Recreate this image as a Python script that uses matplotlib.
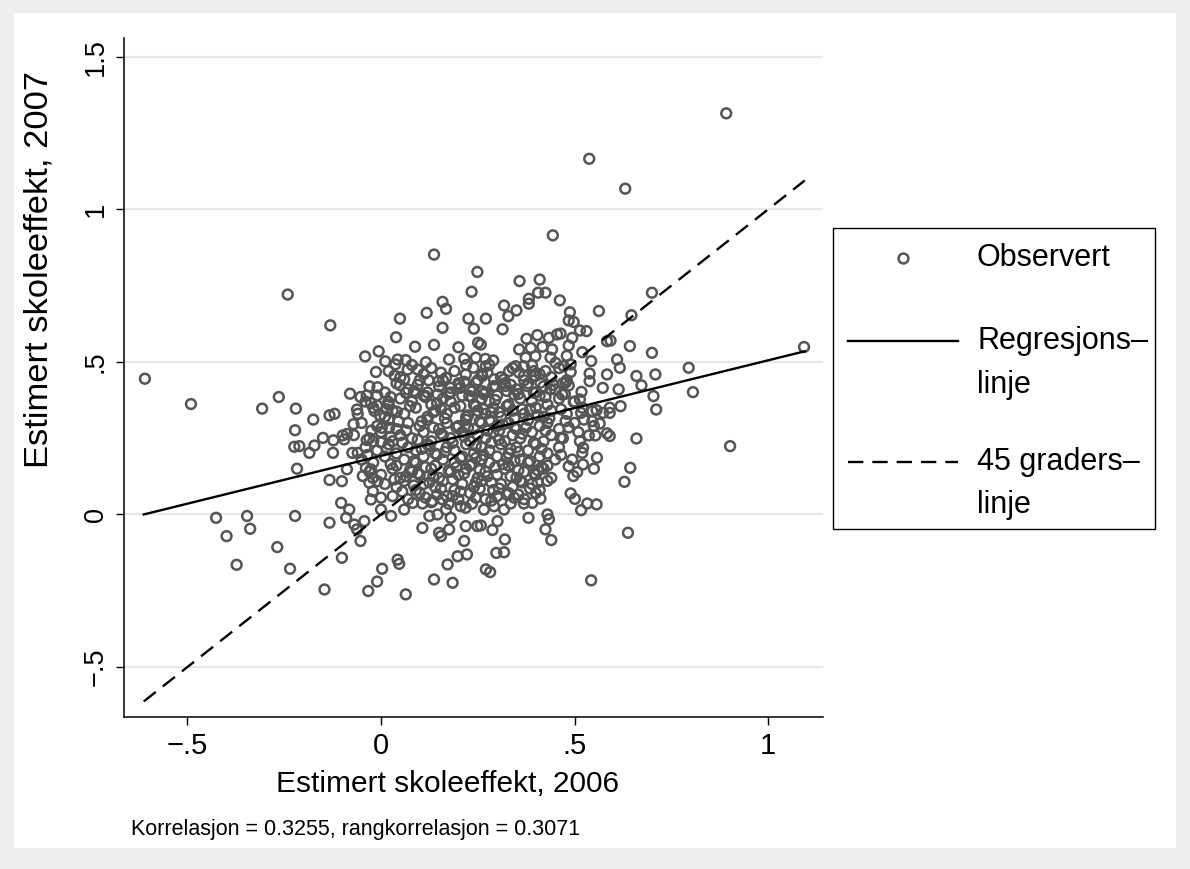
import matplotlib.pyplot as plt
from matplotlib.lines import Line2D
from matplotlib.patches import Rectangle

# school effects, 2006 (x) vs 2007 (y)
pts_left = [(-0.241, 0.721), (-0.610, 0.445), (-0.491, 0.362), (-0.307, 0.347), (-0.264, 0.385),
            (-0.220, 0.347), (-0.222, 0.276), (-0.224, 0.222), (-0.211, 0.224), (-0.217, 0.150),
            (-0.426, -0.011), (-0.346, -0.005), (-0.338, -0.047), (-0.399, -0.071), (-0.222, -0.005),
            (-0.268, -0.107), (-0.373, -0.165), (-0.235, -0.178)]

pts_midleft = [(-0.131, 0.620), (0.049, 0.642), (0.039, 0.581), (-0.006, 0.535), (-0.041, 0.518),
               (0.011, 0.502), (0.037, 0.492), (0.043, 0.508), (-0.013, 0.467), (-0.009, 0.417),
               (0.049, 0.424), (-0.080, 0.396), (-0.053, 0.385), (-0.037, 0.390), (-0.026, 0.366),
               (-0.010, 0.357), (0.019, 0.369), (-0.062, 0.344), (-0.017, 0.339), (-0.003, 0.325),
               (0.041, 0.337), (-0.133, 0.325), (-0.120, 0.330), (-0.175, 0.311),
               (-0.150, 0.251), (-0.172, 0.226), (-0.185, 0.202), (-0.124, 0.202), (-0.123, 0.243),
               (-0.099, 0.259), (-0.088, 0.264), (-0.095, 0.246), (-0.074, 0.202), (-0.060, 0.202),
               (-0.071, 0.296), (-0.037, 0.244), (-0.020, 0.240), (0.000, 0.236), (0.021, 0.284),
               (0.002, 0.284), (-0.088, 0.148), (-0.133, 0.113), (-0.101, 0.109), (-0.047, 0.126),
               (-0.039, 0.153), (-0.026, 0.148), (-0.021, 0.120), (-0.030, 0.104), (-0.009, 0.109),
               (-0.021, 0.076), (0.000, 0.055), (-0.026, 0.049), (0.026, -0.005), (0.000, 0.016),
               (-0.103, 0.038), (-0.082, 0.016), (-0.090, -0.011), (-0.133, -0.027), (-0.069, -0.033),
               (-0.043, -0.022), (-0.062, -0.049), (-0.053, -0.087), (-0.101, -0.142), (0.003, -0.178),
               (-0.010, -0.220), (-0.033, -0.251), (-0.146, -0.246), (0.043, -0.148), (0.047, -0.162)]

pts_mid = [(0.137, 0.852), (0.249, 0.795), (0.234, 0.730), (0.159, 0.697), (0.168, 0.674),
           (0.118, 0.661), (0.226, 0.642), (0.240, 0.609), (0.159, 0.612), (0.088, 0.550),
           (0.137, 0.556), (0.200, 0.548), (0.251, 0.563), (0.176, 0.508), (0.215, 0.511),
           (0.245, 0.514), (0.116, 0.499), (0.064, 0.506), (0.239, 0.481), (0.219, 0.459),
           (0.095, 0.475), (0.069, 0.475), (0.123, 0.440), (0.149, 0.437), (0.168, 0.448),
           (0.180, 0.415), (0.202, 0.426), (0.245, 0.432), (0.060, 0.443), (0.064, 0.399),
           (0.090, 0.399), (0.116, 0.388), (0.146, 0.393), (0.236, 0.404), (0.228, 0.388),
           (0.060, 0.016), (0.082, 0.038), (0.107, 0.036), (0.133, 0.044), (0.159, 0.049),
           (0.185, 0.060), (0.206, 0.027), (0.219, 0.022), (0.245, 0.055), (0.125, -0.005),
           (0.146, 0.000), (0.168, 0.016), (0.180, -0.011), (0.107, -0.044), (0.150, -0.060),
           (0.155, -0.071), (0.176, -0.049), (0.219, -0.038), (0.249, -0.038), (0.215, -0.087),
           (0.198, -0.137), (0.222, -0.131), (0.172, -0.164), (0.137, -0.213), (0.185, -0.224),
           (0.064, -0.262)]

pts_midright = [(0.358, 0.765), (0.410, 0.770), (0.406, 0.727), (0.425, 0.727), (0.382, 0.707),
                (0.382, 0.691), (0.462, 0.702), (0.318, 0.685), (0.350, 0.669), (0.329, 0.650),
                (0.271, 0.642), (0.314, 0.607), (0.376, 0.576), (0.404, 0.588), (0.434, 0.579),
                (0.455, 0.590), (0.357, 0.541), (0.387, 0.546), (0.417, 0.550), (0.442, 0.541),
                (0.258, 0.557), (0.399, 0.519), (0.438, 0.514), (0.374, 0.514), (0.270, 0.510),
                (0.290, 0.505), (0.271, 0.486), (0.348, 0.486), (0.369, 0.486), (0.451, 0.497),
                (0.331, 0.470), (0.357, 0.465), (0.395, 0.470), (0.425, 0.470), (0.292, 0.443),
                (0.318, 0.443), (0.369, 0.454), (0.399, 0.454), (0.262, 0.454), (0.296, 0.421),
                (0.322, 0.421), (0.378, 0.421), (0.412, 0.432), (0.438, 0.410), (0.262, 0.404),
                (0.344, 0.393), (0.395, 0.399),
                (0.266, 0.016), (0.292, 0.027), (0.318, 0.016), (0.344, 0.055), (0.335, 0.036),
                (0.369, 0.036), (0.391, 0.038), (0.412, 0.052), (0.381, -0.011), (0.430, 0.000),
                (0.434, -0.016), (0.425, -0.049), (0.440, -0.084), (0.258, -0.036), (0.301, -0.022),
                (0.288, -0.051), (0.320, -0.082), (0.318, -0.124), (0.298, -0.126), (0.271, -0.180),
                (0.282, -0.189)]

pts_right = [(0.563, 0.667), (0.700, 0.727), (0.647, 0.653), (0.488, 0.663), (0.485, 0.636),
             (0.498, 0.631), (0.464, 0.593), (0.514, 0.603), (0.531, 0.601), (0.494, 0.579),
             (0.584, 0.568), (0.593, 0.570), (0.643, 0.552), (0.700, 0.530), (0.485, 0.554),
             (0.520, 0.532), (0.480, 0.520), (0.543, 0.503), (0.610, 0.508), (0.617, 0.481),
             (0.490, 0.492), (0.472, 0.486), (0.490, 0.467), (0.539, 0.462), (0.584, 0.459),
             (0.660, 0.454), (0.709, 0.459), (0.673, 0.423), (0.539, 0.437), (0.477, 0.432),
             (0.485, 0.423), (0.573, 0.415), (0.614, 0.410), (0.468, 0.393), (0.518, 0.402),
             (0.704, 0.388), (0.498, 0.369), (0.514, 0.377), (0.557, 0.342), (0.591, 0.350),
             (0.619, 0.355), (0.711, 0.344), (0.517, 0.333), (0.546, 0.339), (0.574, 0.333),
             (0.591, 0.333),
             (0.660, 0.249), (0.464, 0.251), (0.514, 0.240), (0.537, 0.259), (0.554, 0.259),
             (0.584, 0.266), (0.591, 0.257), (0.565, 0.298), (0.546, 0.306), (0.524, 0.311),
             (0.477, 0.306), (0.522, 0.219), (0.520, 0.202), (0.494, 0.180), (0.558, 0.186),
             (0.485, 0.158), (0.522, 0.164), (0.550, 0.150), (0.507, 0.139), (0.497, 0.126),
             (0.644, 0.153), (0.629, 0.107), (0.490, 0.069), (0.501, 0.051), (0.533, 0.036),
             (0.557, 0.033), (0.517, 0.014), (0.638, -0.060), (0.543, -0.216)]

pts_far = [(0.892, 1.315), (1.093, 0.549), (0.795, 0.481), (0.806, 0.401), (0.902, 0.224),
           (0.538, 1.166), (0.631, 1.068), (0.444, 0.915)]

# dense centre of the cloud (estimated, markers overlap heavily)
pts_core = [(0.02, 0.47), (0.05, 0.45), (0.08, 0.49), (0.11, 0.46), (0.13, 0.48), (0.16, 0.44),
            (0.19, 0.47), (0.22, 0.49), (0.26, 0.46), (0.28, 0.49), (0.31, 0.45), (0.34, 0.48),
            (0.37, 0.44), (0.39, 0.49), (0.41, 0.46), (0.44, 0.45), (0.46, 0.48), (0.48, 0.44),
            (-0.03, 0.42), (0.01, 0.40), (0.04, 0.43), (0.07, 0.41), (0.10, 0.44), (0.12, 0.40),
            (0.15, 0.42), (0.18, 0.40), (0.20, 0.43), (0.23, 0.41), (0.25, 0.44), (0.27, 0.40),
            (0.29, 0.42), (0.32, 0.43), (0.35, 0.41), (0.38, 0.43), (0.40, 0.40), (0.42, 0.42),
            (0.45, 0.41), (0.47, 0.43),
            (-0.04, 0.37), (-0.01, 0.39), (0.02, 0.36), (0.05, 0.38), (0.08, 0.37), (0.11, 0.39),
            (0.13, 0.36), (0.16, 0.38), (0.18, 0.37), (0.21, 0.39), (0.24, 0.36), (0.26, 0.38),
            (0.28, 0.37), (0.30, 0.39), (0.33, 0.36), (0.36, 0.38), (0.39, 0.37), (0.41, 0.39),
            (0.43, 0.36), (0.46, 0.38), (0.50, 0.37),
            (-0.06, 0.33), (-0.02, 0.35), (0.01, 0.32), (0.03, 0.34), (0.06, 0.33), (0.09, 0.35),
            (0.12, 0.32), (0.14, 0.34), (0.17, 0.33), (0.19, 0.35), (0.22, 0.32), (0.25, 0.34),
            (0.27, 0.33), (0.29, 0.35), (0.31, 0.32), (0.34, 0.34), (0.37, 0.33), (0.40, 0.35),
            (0.42, 0.32), (0.44, 0.34), (0.48, 0.33), (0.52, 0.35),
            (-0.05, 0.30), (-0.01, 0.29), (0.02, 0.31), (0.04, 0.28), (0.07, 0.30), (0.10, 0.29),
            (0.12, 0.31), (0.15, 0.28), (0.17, 0.30), (0.20, 0.29), (0.22, 0.31), (0.24, 0.28),
            (0.26, 0.30), (0.28, 0.31), (0.30, 0.29), (0.33, 0.30), (0.35, 0.28), (0.38, 0.31),
            (0.41, 0.29), (0.43, 0.30), (0.46, 0.28), (0.50, 0.30), (0.55, 0.29),
            (-0.07, 0.26), (-0.03, 0.25), (0.00, 0.27), (0.03, 0.24), (0.05, 0.26), (0.08, 0.25),
            (0.11, 0.27), (0.13, 0.24), (0.16, 0.26), (0.18, 0.25), (0.21, 0.27), (0.23, 0.24),
            (0.25, 0.26), (0.27, 0.25), (0.29, 0.27), (0.32, 0.24), (0.34, 0.26), (0.36, 0.25),
            (0.39, 0.27), (0.42, 0.24), (0.44, 0.26), (0.47, 0.25), (0.51, 0.27),
            (-0.04, 0.22), (-0.01, 0.21), (0.02, 0.23), (0.04, 0.20), (0.07, 0.22), (0.09, 0.21),
            (0.12, 0.23), (0.14, 0.20), (0.17, 0.22), (0.19, 0.21), (0.22, 0.23), (0.24, 0.20),
            (0.26, 0.22), (0.28, 0.21), (0.31, 0.23), (0.33, 0.20), (0.35, 0.22), (0.38, 0.21),
            (0.40, 0.23), (0.43, 0.20), (0.46, 0.22),
            (-0.05, 0.18), (-0.02, 0.17), (0.01, 0.19), (0.04, 0.16), (0.06, 0.18), (0.09, 0.17),
            (0.11, 0.19), (0.14, 0.16), (0.16, 0.18), (0.19, 0.17), (0.21, 0.19), (0.23, 0.16),
            (0.26, 0.18), (0.28, 0.17), (0.30, 0.19), (0.33, 0.16), (0.36, 0.18), (0.38, 0.17),
            (0.41, 0.19), (0.43, 0.16), (0.45, 0.18),
            (-0.03, 0.14), (0.00, 0.13), (0.03, 0.15), (0.05, 0.12), (0.08, 0.14), (0.10, 0.13),
            (0.13, 0.15), (0.15, 0.12), (0.18, 0.14), (0.20, 0.13), (0.22, 0.15), (0.25, 0.12),
            (0.27, 0.14), (0.30, 0.13), (0.32, 0.15), (0.35, 0.12), (0.37, 0.14), (0.40, 0.13),
            (0.42, 0.15), (0.44, 0.12),
            (0.01, 0.10), (0.04, 0.09), (0.06, 0.11), (0.09, 0.08), (0.11, 0.10), (0.14, 0.09),
            (0.16, 0.11), (0.19, 0.08), (0.21, 0.10), (0.24, 0.09), (0.26, 0.11), (0.29, 0.08),
            (0.31, 0.10), (0.34, 0.09), (0.36, 0.11), (0.39, 0.10), (0.41, 0.08), (0.43, 0.11),
            (0.03, 0.06), (0.07, 0.05), (0.10, 0.07), (0.13, 0.04), (0.17, 0.06), (0.20, 0.05),
            (0.23, 0.07), (0.27, 0.05), (0.30, 0.06), (0.33, 0.07), (0.37, 0.05), (0.40, 0.07)]

pts_core2 = [(0.115, 0.385), (0.145, 0.365), (0.175, 0.395), (0.205, 0.355), (0.235, 0.385),
             (0.265, 0.345), (0.295, 0.375), (0.325, 0.355), (0.355, 0.395), (0.385, 0.345),
             (0.105, 0.305), (0.135, 0.335), (0.165, 0.315), (0.195, 0.285), (0.225, 0.325),
             (0.255, 0.305), (0.285, 0.335), (0.315, 0.295), (0.345, 0.315), (0.375, 0.285),
             (0.405, 0.325), (0.095, 0.245), (0.125, 0.225), (0.155, 0.265), (0.185, 0.235),
             (0.215, 0.255), (0.245, 0.225), (0.275, 0.275), (0.305, 0.245), (0.335, 0.215),
             (0.365, 0.265), (0.395, 0.235), (0.085, 0.175), (0.115, 0.155), (0.145, 0.195),
             (0.175, 0.145), (0.205, 0.185), (0.235, 0.165), (0.265, 0.195), (0.295, 0.155),
             (0.325, 0.185), (0.355, 0.145), (0.385, 0.175), (0.415, 0.155), (0.065, 0.125),
             (0.095, 0.135), (0.125, 0.105), (0.155, 0.085), (0.185, 0.115), (0.215, 0.135),
             (0.245, 0.105), (0.275, 0.125), (0.305, 0.085), (0.335, 0.125), (0.365, 0.105),
             (0.395, 0.135),
             (0.035, 0.455), (0.095, 0.425), (0.155, 0.465), (0.215, 0.435), (0.275, 0.465),
             (0.335, 0.425), (0.395, 0.455), (0.445, 0.425), (0.025, 0.385), (0.085, 0.405),
             (0.205, 0.415), (0.265, 0.395), (0.325, 0.405), (0.425, 0.385), (0.475, 0.395),
             (0.015, 0.345), (0.075, 0.355), (0.045, 0.305), (0.155, 0.345), (0.245, 0.355),
             (0.305, 0.335), (0.365, 0.345), (0.435, 0.315), (0.465, 0.345), (-0.025, 0.275),
             (0.025, 0.255), (0.065, 0.275), (0.135, 0.285), (0.225, 0.285), (0.305, 0.275),
             (0.345, 0.285), (0.425, 0.275), (0.485, 0.285), (-0.035, 0.195), (0.015, 0.215),
             (0.055, 0.235), (0.105, 0.215), (0.165, 0.205), (0.245, 0.185), (0.285, 0.235),
             (0.355, 0.205), (0.415, 0.215), (0.465, 0.195), (0.025, 0.165), (0.075, 0.145),
             (0.135, 0.125), (0.195, 0.155), (0.255, 0.145), (0.315, 0.165), (0.345, 0.175),
             (0.405, 0.145), (0.035, 0.115), (0.085, 0.095), (0.145, 0.065), (0.205, 0.075),
             (0.255, 0.085), (0.285, 0.105), (0.325, 0.065), (0.385, 0.085), (0.055, 0.075),
             (0.115, 0.055), (0.175, 0.035), (0.235, 0.035), (0.285, 0.045), (0.355, 0.065),
             (0.405, 0.105)]

# fitted line and 45 degree line
reg_x = [-0.613, 1.095]
reg_y = [0.0, 0.535]
diag_x = [-0.613, 1.095]

xticks = [-0.5, 0, 0.5, 1]
xticklabels = ["\u2212.5", "0", ".5", "1"]
yticks = [-0.5, 0, 0.5, 1, 1.5]
yticklabels = ["\u2212.5", "0", ".5", "1", "1.5"]

obs = pts_left + pts_midleft + pts_mid + pts_midright + pts_right + pts_far + pts_core + pts_core2
obs_x = [p[0] for p in obs]
obs_y = [p[1] for p in obs]

FONT = ["Liberation Sans", "DejaVu Sans"]
MARK = "#555555"

W, H = 1190, 869
fig = plt.figure(figsize=(W / 100, H / 100), dpi=100, facecolor="#EEEEEE")
fig.patches.append(Rectangle((14 / W, 1 - 848 / H), (1176 - 14) / W, (848 - 13) / H,
                             transform=fig.transFigure, facecolor="white", edgecolor="none", zorder=-10))

ax = fig.add_axes([124 / W, 1 - 717 / H, (823 - 124) / W, (717 - 38) / H])
ax.scatter(obs_x, obs_y, s=50, facecolors="none", edgecolors=MARK, linewidths=1.8, zorder=2)
ax.plot(reg_x, reg_y, color="black", lw=1.7, zorder=3)
ax.plot(diag_x, diag_x, color="black", lw=1.7, linestyle=(0, (6.5, 3.8)), zorder=3)

ax.set_xlim(-0.664, 1.142)
ax.set_ylim(-0.664, 1.562)
ax.set_xticks(xticks)
ax.set_xticklabels(xticklabels, family=FONT, fontsize=21)
ax.set_yticks(yticks)
ax.set_yticklabels(yticklabels, family=FONT, fontsize=19.5, rotation=90, va="center")
ax.tick_params(direction="out", length=6, width=1.0, pad=5)
ax.yaxis.grid(True, color="#E8E8E8", lw=1.6)
ax.set_axisbelow(True)
for s in ["top", "right"]:
    ax.spines[s].set_visible(False)
for s in ["left", "bottom"]:
    ax.spines[s].set_linewidth(1.1)

ax.set_xlabel("Estimert skoleeffekt, 2006", family=FONT, fontsize=21.5, va="center")
ax.xaxis.set_label_coords((448 - 124) / 699, -(784 - 717) / 679)
ax.set_ylabel("Estimert skoleeffekt, 2007", family=FONT, fontsize=24.8)
ax.yaxis.set_label_coords(-(124 - 55) / 699, (717 - 270) / 679)

fig.text(131 / W, 1 - 829 / H, "Korrelasjon = 0.3255, rangkorrelasjon = 0.3071",
         family=FONT, fontsize=15.5, va="center", ha="left")


# legend box drawn like Stata's
def fx(px):
    return px / W


def fy(py):
    return 1 - py / H


fig.patches.append(Rectangle((fx(833), fy(529)), (1155 - 833) / W, (529 - 228) / H,
                             transform=fig.transFigure, facecolor="white", edgecolor="black", lw=1.0))
fig.add_artist(Line2D([fx(903)], [fy(258)], marker="o", markersize=7.1, markerfacecolor="none",
                      markeredgecolor=MARK, markeredgewidth=1.8, transform=fig.transFigure))
fig.add_artist(Line2D([fx(848), fx(958)], [fy(341), fy(341)], color="black", lw=1.7,
                      transform=fig.transFigure))
fig.add_artist(Line2D([fx(848), fx(958)], [fy(462), fy(462)], color="black", lw=1.7,
                      linestyle=(0, (6.5, 3.8)), transform=fig.transFigure))
for label, py in [("Observert", 258), ("Regresjons\u2013", 341), ("linje", 385),
                  ("45 graders\u2013", 462), ("linje", 505)]:
    fig.text(fx(977), fy(py), label, family=FONT, fontsize=22, va="center", ha="left")

fig.savefig("out.png", dpi=100, facecolor=fig.get_facecolor())
